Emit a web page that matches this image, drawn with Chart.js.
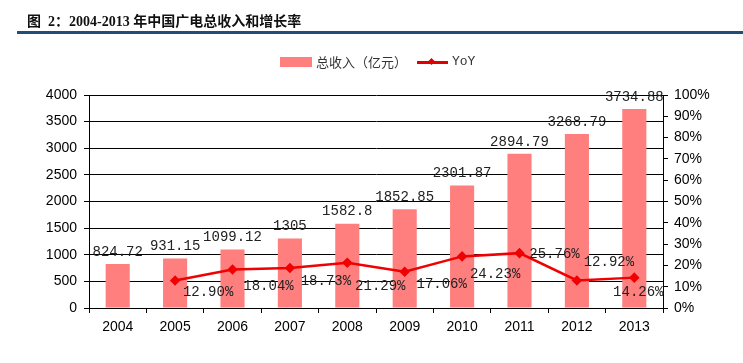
<!DOCTYPE html>
<html>
<head>
<meta charset="utf-8">
<script src="https://cdn.jsdelivr.net/npm/chart.js@4/dist/chart.umd.min.js"></script>
<style>
  body { margin: 0; background: #fff; }
  #wrap { position: relative; width: 743px; height: 363px; }
  #title { position: absolute; left: 27px; top: 10px; font: bold 14px "Liberation Serif", "Noto Sans CJK SC"; color: #111; white-space: pre; }
  #rule { position: absolute; left: 17px; top: 31px; width: 726px; height: 3px; background: #1f4e79; }
  .lg { position: absolute; font: 13px "Noto Sans CJK SC"; color: #333; white-space: nowrap; line-height: 14px; }
  #box { position: absolute; left: 280px; top: 57px; width: 32px; height: 10px; background: #ff7f7f; }
  #ln { position: absolute; left: 417px; top: 61px; width: 31px; height: 3px; background: #e00000; }
  #dia { position: absolute; left: 429px; top: 59px; width: 5px; height: 5px; background: #e00000; transform: rotate(45deg); }
</style>
</head>
<body>
<div id="wrap">
  <canvas id="chart" width="743" height="363"></canvas>
  <div id="title">图  2：2004-2013 年中国广电总收入和增长率</div>
  <div id="rule"></div>
  <div id="box"></div>
  <div class="lg" style="left:316px; top:55px;">总收入（亿元）</div>
  <div id="ln"></div>
  <div id="dia"></div>
  <div class="lg" style="left:452px; top:55px; font-family:'Liberation Mono';">YoY</div>
</div>
<script>
// data
const years = ['2004', '2005', '2006', '2007', '2008', '2009', '2010', '2011', '2012', '2013']
const revenue = [824.72, 931.15, 1099.12, 1305, 1582.8, 1852.85, 2301.87, 2894.79, 3268.79, 3734.88]
const yoy = [null, 12.90, 18.04, 18.73, 21.29, 17.06, 24.23, 25.76, 12.92, 14.26]

// where the yoy labels sit relative to their point
const yoyDx = [0, 33, 36, 36, 33, 37, 33, 35, 32, 4]
const yoyDy = [0, 12, 17, 13, 24, 13, 18, 1, -18, 15]

const labelPlugin = {
  id: 'labels',
  afterDatasetsDraw(chart) {
    const ctx = chart.ctx
    ctx.save()
    ctx.font = '14px "Liberation Mono"'
    ctx.fillStyle = '#222'
    ctx.textAlign = 'center'
    ctx.textBaseline = 'middle'
    chart.getDatasetMeta(0).data.forEach((el, i) => {
      ctx.fillText(String(revenue[i]), el.x, el.y - 12)
    })
    chart.getDatasetMeta(1).data.forEach((el, i) => {
      if (yoy[i] == null) return
      ctx.fillText(yoy[i].toFixed(2) + '%', el.x + yoyDx[i], el.y + yoyDy[i])
    })
    ctx.restore()
  }
}

const tickFont = { family: 'Liberation Sans', size: 14 }

new Chart(document.getElementById('chart'), {
  type: 'bar',
  data: {
    labels: years,
    datasets: [{
      label: '总收入（亿元）',
      data: revenue,
      backgroundColor: '#ff7f7f',
      barPercentage: 0.42,
      categoryPercentage: 1,
      yAxisID: 'y',
      order: 2
    }, {
      type: 'line',
      label: 'YoY',
      data: yoy,
      borderColor: '#f00000',
      backgroundColor: '#f00000',
      borderWidth: 2.5,
      pointStyle: 'rectRot',
      pointRadius: 3.5,
      tension: 0,
      yAxisID: 'y2',
      order: 1
    }]
  },
  options: {
    responsive: false,
    animation: false,
    layout: { padding: { left: 29, right: 20, top: 95, bottom: 20 } },
    plugins: { legend: { display: false }, tooltip: { enabled: false } },
    scales: {
      x: {
        offset: true,
        grid: { offset: true, drawOnChartArea: false, color: '#000', tickLength: 5 },
        border: { color: '#000' },
        ticks: { font: tickFont, color: '#000', padding: 6 },
        afterFit(s) { s.height = 35 }
      },
      y: {
        min: 0, max: 4000,
        ticks: { stepSize: 500, font: tickFont, color: '#000', padding: 7, callback: v => String(v) },
        grid: { color: '#000', tickLength: 5 },
        border: { color: '#000' },
        afterFit(s) { s.width = 60 }
      },
      y2: {
        position: 'right',
        min: 0, max: 100,
        ticks: { stepSize: 10, font: tickFont, color: '#000', padding: 6, callback: v => v + '%' },
        grid: { drawOnChartArea: false, color: '#000', tickLength: 5 },
        border: { color: '#000' },
        afterFit(s) { s.width = 60 }
      }
    }
  },
  plugins: [labelPlugin]
})
</script>
</body>
</html>
